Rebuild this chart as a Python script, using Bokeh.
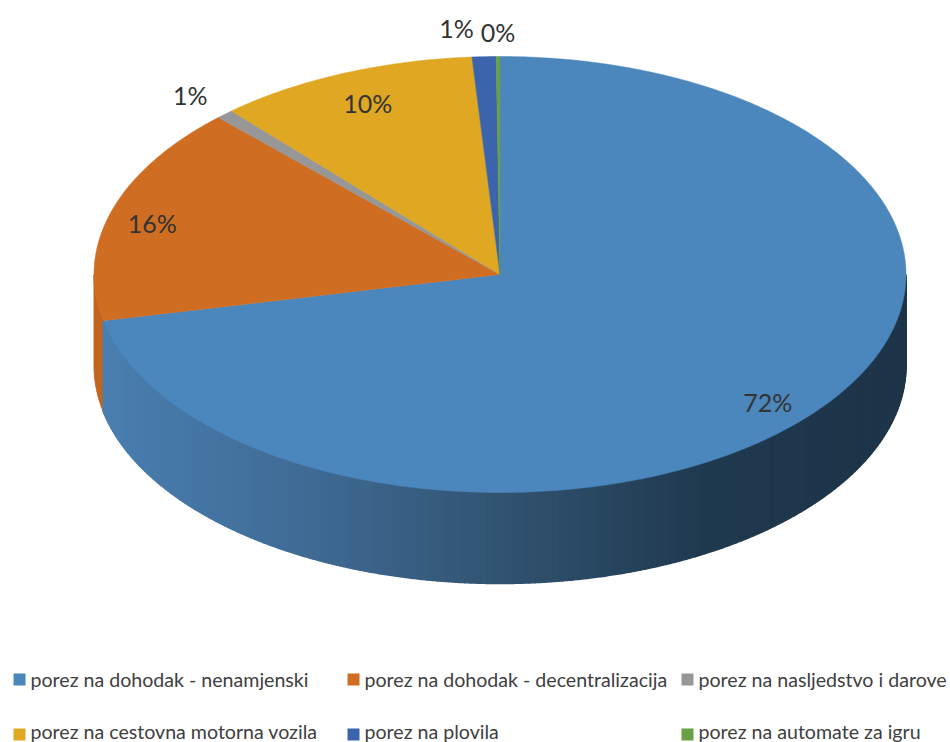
import numpy as np
from bokeh.plotting import figure
from bokeh.models import Range1d
from bokeh.core.properties import value
from bokeh.embed import file_html
from bokeh.resources import INLINE

# Data
categories = ["porez na dohodak - nenamjenski", "porez na dohodak - decentralizacija",
              "porez na nasljedstvo i darove", "porez na cestovna motorna vozila",
              "porez na plovila", "porez na automate za igru"]
shares = [71.6, 16.2, 0.7, 10.4, 0.95, 0.15]
percent_labels = ["72%", "16%", "1%", "10%", "1%", "0%"]

# Styling and layout
colors = ["#4b86bd", "#cf6d22", "#979797", "#dfa722", "#3b64ad", "#68a045"]
CX, CY, RX, RY, DEPTH = 499.5, 274.0, 406.0, 218.0, 91.0
label_reach = [0.8, 0.8, 1.1, 0.8, 1.1, 1.1]
label_nudge = [(15, 18), (-37, -1), (-7, -3), (-7, -11), (-26, -7), (0, -3)]
legend_col = [13, 347, 681]
legend_row = [679, 734]
legend_text_row = [679, 730.5]
side_x = [103, 300, 500, 700, 906]
side_rgb = [(74, 127, 176), (64, 108, 150), (50, 84, 114), (32, 58, 80), (30, 52, 72)]


def rim(deg):
    a = np.radians(deg)
    return CX + RX * np.sin(a), CY - RY * np.cos(a)


p = figure(width=950, height=742, output_backend="svg", toolbar_location=None,
           x_range=Range1d(0, 950), y_range=Range1d(742, 0),
           x_axis_type=None, y_axis_type=None, min_border=0,
           outline_line_color=None, background_fill_color="white", border_fill_color="white")
p.grid.visible = False

edges = np.concatenate([[0.0], np.cumsum(shares)]) / sum(shares) * 360.0

# Side wall: orange slice (only the part left of the blue slice shows)
t = np.linspace(edges[1], 270.0, 30)
xr, yr = rim(t)
p.patch(np.concatenate([xr, xr[::-1]]), np.concatenate([yr, yr[::-1] + DEPTH]),
        fill_color="#c0641f", line_color="#c0641f")

# Side wall: blue slice, split in strips to give a horizontal gradient
t = np.linspace(90.0, edges[1], 220)
xs, ys, cs = [], [], []
for a, b in zip(t[:-1], t[1:]):
    seg = np.linspace(a, b, 4)
    xr, yr = rim(seg)
    xs.append(np.concatenate([xr, xr[::-1]]))
    ys.append(np.concatenate([yr, yr[::-1] + DEPTH]))
    mx = xr.mean()
    rgb = [int(np.interp(mx, side_x, [c[i] for c in side_rgb])) for i in range(3)]
    cs.append("#%02x%02x%02x" % tuple(rgb))
p.patches(xs, ys, fill_color=cs, line_color=cs, line_width=1.5)

# Top face
for i, col in enumerate(colors):
    n = max(int((edges[i + 1] - edges[i]) * 1.5), 3)
    xr, yr = rim(np.linspace(edges[i], edges[i + 1], n))
    p.patch(np.concatenate([[CX], xr]), np.concatenate([[CY], yr]),
            fill_color=col, line_color=col, line_width=0.5)

# Percent labels
mids = (edges[:-1] + edges[1:]) / 2
lx, ly = [], []
for m, r, (dx, dy) in zip(mids, label_reach, label_nudge):
    a = np.radians(m)
    lx.append(CX + RX * r * np.sin(a) + dx)
    ly.append(CY - RY * r * np.cos(a) + dy)
p.text(x=lx, y=ly, text=percent_labels, text_font=value("Lato"), text_font_size="25px",
       text_color="#333333", text_align="center", text_baseline="middle")

# Legend
pos = [(0, 0), (1, 0), (2, 0), (0, 1), (1, 1), (2, 1)]
sw_x = [legend_col[c] for c, r in pos]
sw_y = [legend_row[r] for c, r in pos]
tx_y = [legend_text_row[r] for c, r in pos]
p.rect(x=[v + 6 for v in sw_x], y=sw_y, width=12, height=12, fill_color=colors, line_color=None)
p.text(x=[v + 17 for v in sw_x], y=tx_y, text=categories, text_font=value("Lato"),
       text_font_size="19.6px", text_color="#404040", text_align="left", text_baseline="middle")

open("out.html", "w").write(file_html(p, INLINE))
